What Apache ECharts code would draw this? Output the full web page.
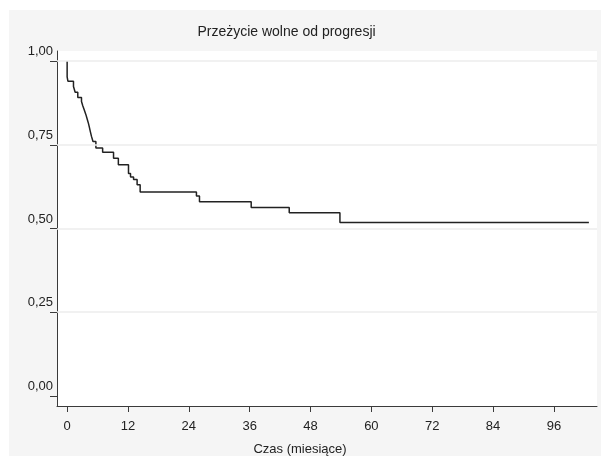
<!DOCTYPE html>
<html>
<head>
<meta charset="utf-8">
<script src="https://cdn.jsdelivr.net/npm/echarts@6/dist/echarts.min.js"></script>
<style>
html,body{margin:0;padding:0;background:#fff;width:601px;height:456px;overflow:hidden;}
#chart{position:absolute;left:9px;top:10px;width:592px;height:446px;}
</style>
</head>
<body>
<div id="chart"></div>
<script>
// Kaplan-Meier estimate (time in months, survival proportion)
var times = [0, 0, 0.15, 1.25, 1.58, 2.1, 2.83, 3.1, 3.4, 3.7, 3.95, 4.2, 4.4, 4.6, 4.8, 5.1, 5.67, 7.0, 9.15, 10.1, 12.1, 12.5, 13.1, 13.8, 14.4, 25.5, 26.1, 36.3, 43.8, 53.8, 102.9];
var survival = [1.0, 0.953, 0.940, 0.924, 0.907, 0.891, 0.879, 0.866, 0.853, 0.840, 0.827, 0.814, 0.801, 0.788, 0.775, 0.760, 0.740, 0.728, 0.710, 0.690, 0.664, 0.654, 0.646, 0.631, 0.609, 0.597, 0.580, 0.563, 0.547, 0.518, 0.518];
var xTicks = [0, 12, 24, 36, 48, 60, 72, 84, 96];
var yTicks = [0, 0.25, 0.5, 0.75, 1.0];
var gridValues = [0.25, 0.5, 0.75, 1.0];
var titleText = 'Przeżycie wolne od progresji';
var xName = 'Czas (miesiące)';

var data = times.map(function (t, i) { return [t, survival[i]]; });
var font = '"Liberation Sans", Arial, Helvetica, sans-serif';
var axisColor = '#3a3a3a';

var chart = echarts.init(document.getElementById('chart'), null, {renderer: 'canvas'});
chart.setOption({
  backgroundColor: '#f5f5f5',
  animation: false,
  grid: {left: 48, top: 41, right: 4, bottom: 50, show: true, backgroundColor: '#ffffff', borderWidth: 0},
  graphic: [
    {type: 'text', x: 277.5, y: 22, style: {text: titleText, fill: '#222', font: '14px ' + font, textAlign: 'center', textVerticalAlign: 'middle'}},
    {type: 'text', x: 291, y: 439, style: {text: xName, fill: '#222', font: '13px ' + font, textAlign: 'center', textVerticalAlign: 'middle'}}
  ],
  xAxis: {
    type: 'value', min: -2, max: 104.5,
    axisLine: {show: true, onZero: false, lineStyle: {color: axisColor, width: 1}},
    axisTick: {show: true, length: 6, customValues: xTicks, lineStyle: {color: axisColor}},
    axisLabel: {customValues: xTicks, color: '#222', fontSize: 13, fontFamily: font, margin: 14},
    splitLine: {show: false}
  },
  yAxis: {
    type: 'value', min: -0.03, max: 1.03,
    axisLine: {show: true, onZero: false, lineStyle: {color: axisColor, width: 1}},
    axisTick: {show: true, length: 7, customValues: yTicks, lineStyle: {color: axisColor}},
    axisLabel: {
      customValues: yTicks, color: '#222', fontSize: 13, fontFamily: font, margin: 4,
      verticalAlign: 'bottom', padding: [0, 0, 3, 0],
      formatter: function (v) { return v.toFixed(2).replace('.', ','); }
    },
    splitLine: {show: false}
  },
  series: [{
    type: 'line', step: 'end', data: data, symbol: 'none', silent: true,
    lineStyle: {color: '#222', width: 1.5},
    markLine: {
      silent: true, symbol: 'none', label: {show: false}, animation: false,
      lineStyle: {color: '#ececec', width: 1.5, type: 'solid'},
      data: gridValues.map(function (v) { return {yAxis: v}; })
    },
    z: 3
  }]
});
</script>
</body>
</html>
